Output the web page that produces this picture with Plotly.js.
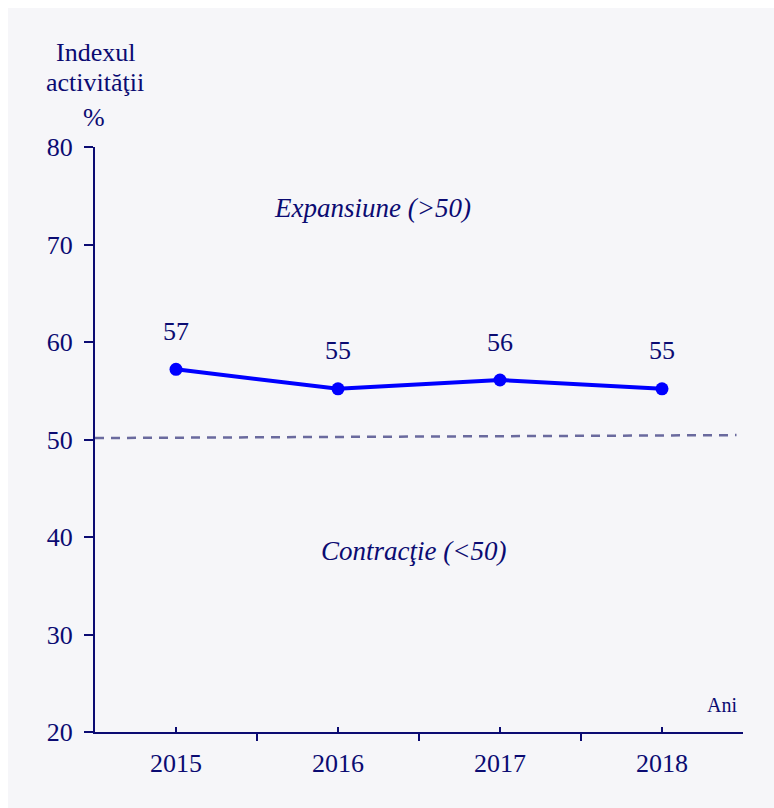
<!DOCTYPE html>
<html>
<head>
<meta charset="utf-8">
<script src="https://cdn.plot.ly/plotly-3.0.1.min.js"></script>
<style>
html,body{margin:0;padding:0;background:#ffffff;}
#chart{position:absolute;left:8px;top:8px;width:766px;height:800px;}
</style>
</head>
<body>
<div id="chart"></div>
<script>
// Data
const years = ["2015", "2016", "2017", "2018"];
const activityIndex = [57.2, 55.2, 56.1, 55.2];
const valueLabels = ["57", "55", "56", "55"];
const thresholdStart = 50.15;
const thresholdEnd = 50.45;
const yTicks = [20, 30, 40, 50, 60, 70, 80];

const navy = "#0b0b72";
const serif = "Liberation Serif, Times New Roman, serif";
const xIdx = years.map((_, i) => i);

const trace = {
  x: xIdx,
  y: activityIndex,
  type: "scatter",
  mode: "lines+markers",
  line: {color: "#0000ff", width: 4},
  marker: {color: "#0000ff", size: 13},
  hoverinfo: "skip",
  showlegend: false
};

const labelAnns = xIdx.map((x, i) => ({
  x: x, y: activityIndex[i], xref: "x", yref: "y",
  text: valueLabels[i], showarrow: false, yshift: 38,
  font: {family: serif, size: 26, color: navy}
}));

const layout = {
  width: 766, height: 800,
  paper_bgcolor: "#f6f6f9",
  plot_bgcolor: "#f6f6f9",
  margin: {l: 87, r: 31, t: 139, b: 76},
  font: {family: serif, size: 26, color: navy},
  xaxis: {
    range: [-0.5, 3.5],
    tickmode: "array",
    tickvals: xIdx,
    ticktext: years,
    ticks: "inside",
    ticklen: 5,
    tickwidth: 2,
    tickcolor: navy,
    minor: {tickmode: "linear", tick0: -0.5, dtick: 1, ticks: "outside", ticklen: 7, tickwidth: 2, tickcolor: navy, showgrid: false},
    showline: true, linecolor: navy, linewidth: 2,
    showgrid: false, zeroline: false,
    tickfont: {family: serif, size: 26, color: navy},
    ticklabelstandoff: 7,
    fixedrange: true
  },
  yaxis: {
    range: [20, 80],
    tickmode: "array",
    tickvals: yTicks,
    ticks: "outside",
    ticklen: 9,
    tickwidth: 2,
    tickcolor: navy,
    showline: true, linecolor: navy, linewidth: 2,
    showgrid: false, zeroline: false,
    tickfont: {family: serif, size: 26, color: navy},
    ticklabelstandoff: 6,
    fixedrange: true
  },
  shapes: [{
    type: "line", xref: "paper", yref: "y",
    x0: 0, x1: 0.99, y0: thresholdStart, y1: thresholdEnd,
    line: {color: "#6a6a9e", width: 2.5, dash: "9px,7px"}
  }],
  annotations: labelAnns.concat([
    {xref: "paper", yref: "paper", x: 0, y: (724 - 45) / 585, text: "Indexul", showarrow: false, xanchor: "center", yanchor: "middle", font: {family: serif, size: 26, color: navy}},
    {xref: "paper", yref: "paper", x: 0, y: (724 - 75) / 585, text: "activităţii", showarrow: false, xanchor: "center", yanchor: "middle", font: {family: serif, size: 26, color: navy}},
    {xref: "paper", yref: "paper", x: -0.002, y: (724 - 110) / 585, text: "%", showarrow: false, xanchor: "center", yanchor: "middle", font: {family: serif, size: 26, color: navy}},
    {xref: "paper", yref: "paper", x: (714 - 87) / 648, y: (724 - 697) / 585, text: "Ani", showarrow: false, xanchor: "center", yanchor: "middle", font: {family: serif, size: 20, color: navy}},
    {xref: "x", yref: "y", x: 1.21, y: 73.7, text: "<i>Expansiune (>50)</i>", showarrow: false, xanchor: "center", yanchor: "middle", font: {family: serif, size: 27, color: navy}},
    {xref: "x", yref: "y", x: 1.465, y: 38.6, text: "<i>Contracţie (<50)</i>", showarrow: false, xanchor: "center", yanchor: "middle", font: {family: serif, size: 27, color: navy}}
  ])
};

Plotly.newPlot("chart", [trace], layout, {displayModeBar: false, staticPlot: true});
</script>
</body>
</html>
